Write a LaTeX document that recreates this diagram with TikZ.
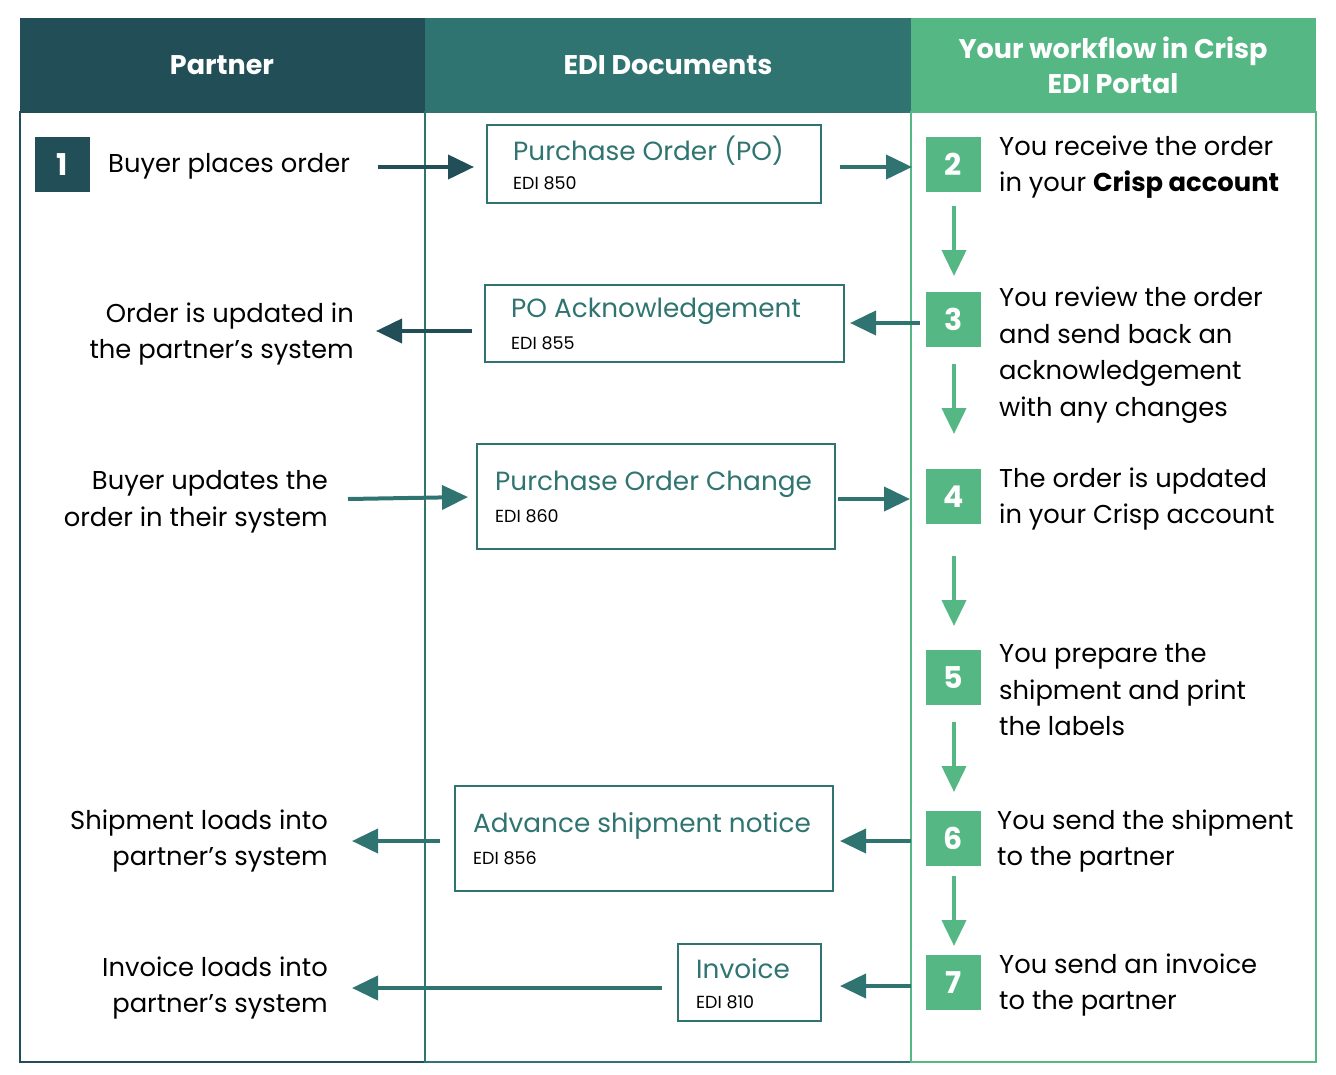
\documentclass[tikz,border=0pt]{standalone}
\usepackage{fontspec}
\setmainfont{Poppins}
\usetikzlibrary{arrows.meta}
\definecolor{dk}{HTML}{214E57}
\definecolor{md}{HTML}{2F7470}
\definecolor{gr}{HTML}{55B884}
\begin{document}
\begin{tikzpicture}[x=1pt,y=-1pt,
  txt/.style={inner sep=0pt,font=\fontsize{25.8}{36.5}\selectfont,text=black},
  hd/.style={text=white,font=\fontsize{27}{35}\selectfont\bfseries,align=center},
  num/.style={minimum width=55pt,minimum height=55pt,inner sep=0pt,text=white,font=\fontsize{30}{30}\selectfont\bfseries},
  dt/.style={anchor=west,inner sep=0pt,text=md,font=\fontsize{26.3}{26}\selectfont},
  dn/.style={anchor=west,inner sep=0pt,font=\fontsize{17.5}{17}\selectfont},
  doc/.style={draw=md,line width=1.5pt},
  ar/.style={line width=4pt,-{Triangle[length=26pt,width=24pt]}},
  ga/.style={ar,draw=gr,fill=gr},
  ta/.style={ar,draw=md}]
\useasboundingbox (0,0) rectangle (1336,1074);
\fill[dk] (20,18) rectangle (425,112);
\fill[md] (425,18) rectangle (911,112);
\fill[gr] (911,18) rectangle (1316,112);
\draw[dk,line width=1.5pt] (20,112) rectangle (425,1062);
\draw[md,line width=1.5pt] (425,112) rectangle (911,1062);
\draw[gr,line width=1.5pt] (911,112) rectangle (1316,1062);
\node[hd] (h1) at (222,65) {Partner};
\node[hd] (h2) at (668,65) {EDI Documents};
\node[hd] (h3) at (1113,65) {Your workflow in Crisp\\EDI Portal};
\node[num,fill=dk] (n1) at (62.5,164.5) {1};
\node[num,fill=gr] (n2) at (953.5,164.5) {2};
\node[num,fill=gr] (n3) at (953.5,319.5) {3};
\node[num,fill=gr] (n4) at (953.5,496.5) {4};
\node[num,fill=gr] (n5) at (953.5,677.5) {5};
\node[num,fill=gr] (n6) at (953.5,838.5) {6};
\node[num,fill=gr] (n7) at (953.5,982.5) {7};
\draw[doc] (487,125) rectangle (821,203);
\node[dt] (pot) at (513,151) {Purchase Order (PO)};
\node[dn] (pon) at (513,183) {EDI 850};
\draw[doc] (485,285) rectangle (844,362);
\node[dt] (ackt) at (511,311) {PO Acknowledgement};
\node[dn] (ackn) at (511,343) {EDI 855};
\draw[doc] (477,444) rectangle (835,549);
\node[dt] (pct) at (495,484) {Purchase Order Change};
\node[dn] (pcn) at (495,516) {EDI 860};
\draw[doc] (455,786) rectangle (833,891);
\node[dt] (asnt) at (473,826) {Advance shipment notice};
\node[dn] (asnn) at (473,858) {EDI 856};
\draw[doc] (678,944) rectangle (821,1021);
\node[dt] (invt) at (696,969) {Invoice};
\node[dn] (invn) at (696,1002) {EDI 810};
\node[txt,anchor=west] (l1) at (108,166) {Buyer places order};
\node[txt,anchor=east,align=right] (l2) at (354,334) {Order is updated in\\the partner’s system};
\node[txt,anchor=east,align=right] (l3) at (328,502) {Buyer updates the\\order in their system};
\node[txt,anchor=east,align=right] (l4) at (328,841) {Shipment loads into\\partner’s system};
\node[txt,anchor=east,align=right] (l5) at (328,988) {Invoice loads into\\partner’s system};
\node[txt,anchor=west,align=left] (r2) at (999,167) {You receive the order\\in your \textbf{Crisp account}};
\node[txt,anchor=west,align=left] (r3) at (999,355) {You review the order\\and send back an\\acknowledgement\\with any changes};
\node[txt,anchor=west,align=left] (r4) at (999,499) {The order is updated\\in your Crisp account};
\node[txt,anchor=west,align=left] (r5) at (999,690) {You prepare the\\shipment and print\\the labels};
\node[txt,anchor=west,align=left] (r6) at (997,841) {You send the shipment\\to the partner};
\node[txt,anchor=west,align=left] (r7) at (999,985) {You send an invoice\\to the partner};
\coordinate (a1s) at (378,167); \coordinate (a1e) at (474,167);
\draw[ar,draw=dk] (a1s) -- (a1e);
\coordinate (a2s) at (840,167); \coordinate (a2e) at (912,167);
\draw[ta] (a2s) -- (a2e);
\coordinate (a3s) at (920,323); \coordinate (a3e) at (850,323);
\draw[ta] (a3s) -- (a3e);
\coordinate (a4s) at (472,331); \coordinate (a4e) at (376,331);
\draw[ar,draw=dk] (a4s) -- (a4e);
\coordinate (a5s) at (348,499); \coordinate (a5e) at (468,497);
\draw[ta] (a5s) -- (a5e);
\coordinate (a6s) at (838,499); \coordinate (a6e) at (910,499);
\draw[ta] (a6s) -- (a6e);
\coordinate (a7s) at (911,841); \coordinate (a7e) at (840,841);
\draw[ta] (a7s) -- (a7e);
\coordinate (a8s) at (440,841); \coordinate (a8e) at (352,841);
\draw[ta] (a8s) -- (a8e);
\coordinate (a9s) at (911,986); \coordinate (a9e) at (840,986);
\draw[ta] (a9s) -- (a9e);
\coordinate (a10s) at (662,988); \coordinate (a10e) at (352,988);
\draw[ta] (a10s) -- (a10e);
\foreach \s/\e in {206/276,364/434,556/626,722/792,876/946}{
  \coordinate (gs) at (954,\s); \coordinate (ge) at (954,\e);
  \draw[ga] (gs) -- (ge);}
\end{tikzpicture}
\end{document}
